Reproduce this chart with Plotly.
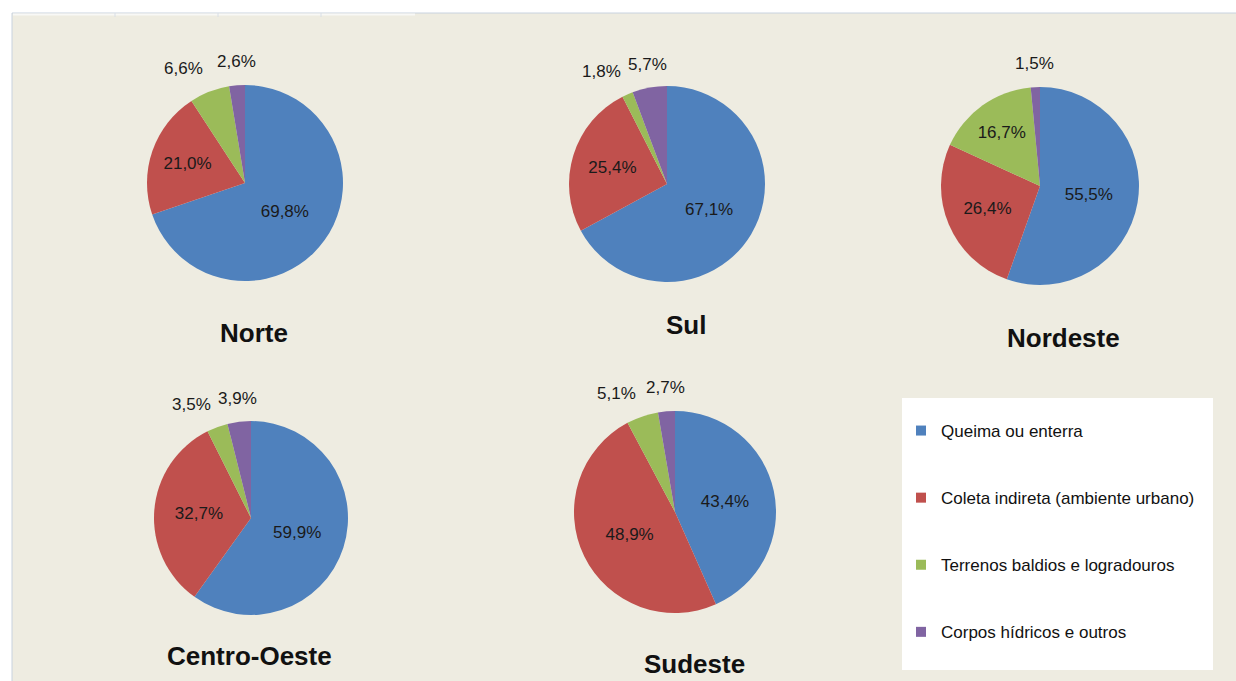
import math
import plotly.graph_objects as go

W, H = 1236, 681

categories = ["Queima ou enterra", "Coleta indireta (ambiente urbano)",
              "Terrenos baldios e logradouros", "Corpos hídricos e outros"]
colors = ["#4F81BD", "#C0504D", "#9BBB59", "#8064A2"]

regions = ["Norte", "Sul", "Nordeste", "Centro-Oeste", "Sudeste"]
norte = [69.8, 21.0, 6.6, 2.6]
sul = [67.1, 25.4, 1.8, 5.7]
nordeste = [55.5, 26.4, 16.7, 1.5]
centro_oeste = [59.9, 32.7, 3.5, 3.9]
sudeste = [43.4, 48.9, 5.1, 2.7]
values = [norte, sul, nordeste, centro_oeste, sudeste]

# layout (pixels): pie center x, center y, radius; title center x, y
pie_geom = [(245, 183, 98), (667, 184, 98), (1040, 186, 99), (251, 518, 97), (675, 512, 101)]
title_pos = [(254, 333), (686, 325), (1063, 338), (249, 656), (694, 664)]

FONT = "Liberation Sans, Arial, sans-serif"
LABEL_SIZE = 17
GAP = 12


def px(x):
    return x / W


def py(y):
    return 1 - y / H


def fmt(v):
    return f"{v:.1f}%".replace(".", ",")


fig = go.Figure()
annotations = []

for name, vals, (cx, cy, r) in zip(regions, values, pie_geom):
    txt = [fmt(v) for v in vals]
    pos = ["inside" if v >= 10 else "none" for v in vals]
    fig.add_trace(go.Pie(
        labels=categories, values=vals, text=txt, textinfo="text",
        textposition=pos, sort=False, direction="clockwise", rotation=0,
        marker=dict(colors=colors, line=dict(width=0)),
        textfont=dict(family=FONT, size=LABEL_SIZE, color="#1a1a1a"),
        insidetextorientation="horizontal",
        showlegend=False, hoverinfo="label+percent", name=name,
        domain=dict(x=[px(cx - r), px(cx + r)], y=[py(cy + r), py(cy - r)]),
    ))
    # outside-end labels for the small slices, placed from each slice's mid-angle
    total = sum(vals)
    start = 0.0
    for v, t in zip(vals, txt):
        frac = v / total
        mid = (start + frac / 2) * 2 * math.pi
        start += frac
        if v >= 10:
            continue
        s, c = math.sin(mid), math.cos(mid)
        ax = cx + (r + GAP) * s
        ay = cy - (r + GAP) * c
        xanchor = "center" if abs(s) < 0.2 else ("left" if s > 0 else "right")
        yanchor = "bottom" if c > 0 else "top"
        annotations.append(dict(
            text=t, x=px(ax), y=py(ay), xref="paper", yref="paper",
            xanchor=xanchor, yanchor=yanchor, showarrow=False,
            font=dict(family=FONT, size=LABEL_SIZE, color="#1a1a1a"),
        ))

for cat, col in zip(categories, colors):
    fig.add_trace(go.Scatter(
        x=[None], y=[None], mode="markers", name=cat, legendgroup=cat,
        marker=dict(symbol="square", size=10, color=col),
    ))

for name, (tx, ty) in zip(regions, title_pos):
    annotations.append(dict(
        text=f"<b>{name}</b>", x=px(tx), y=py(ty), xref="paper", yref="paper",
        xanchor="center", yanchor="middle", showarrow=False,
        font=dict(family=FONT, size=26, color="#111111"),
    ))

shapes = [
    dict(type="rect", xref="paper", yref="paper", x0=px(12), x1=px(1240), y0=py(685), y1=py(13),
         fillcolor="#EEECE1", line=dict(color="#C8D2DF", width=1), layer="below"),
    dict(type="line", xref="paper", yref="paper", x0=px(13), x1=px(415), y0=py(14.5), y1=py(14.5),
         line=dict(color="#F8F8F6", width=2), layer="below"),
    dict(type="rect", xref="paper", yref="paper", x0=px(902), x1=px(1213), y0=py(670), y1=py(398),
         fillcolor="white", line=dict(width=0), layer="below"),
]
for xv in (115, 218, 321):
    shapes.append(dict(type="line", xref="paper", yref="paper", x0=px(xv), x1=px(xv),
                       y0=py(17), y1=py(13), line=dict(color="#D8DEE6", width=1), layer="below"))

fig.update_layout(
    width=W, height=H, margin=dict(l=0, r=0, t=0, b=0),
    paper_bgcolor="white", plot_bgcolor="rgba(0,0,0,0)",
    xaxis=dict(visible=False), yaxis=dict(visible=False),
    shapes=shapes, annotations=annotations,
    legend=dict(x=px(901), y=py(413), xanchor="left", yanchor="top",
                bgcolor="rgba(0,0,0,0)", traceorder="grouped", tracegroupgap=42,
                font=dict(family=FONT, size=17, color="#111111")),
)

fig.write_html("out.html", config={"displayModeBar": False},
               post_script="document.body.style.margin='0';document.body.style.overflow='hidden';")
